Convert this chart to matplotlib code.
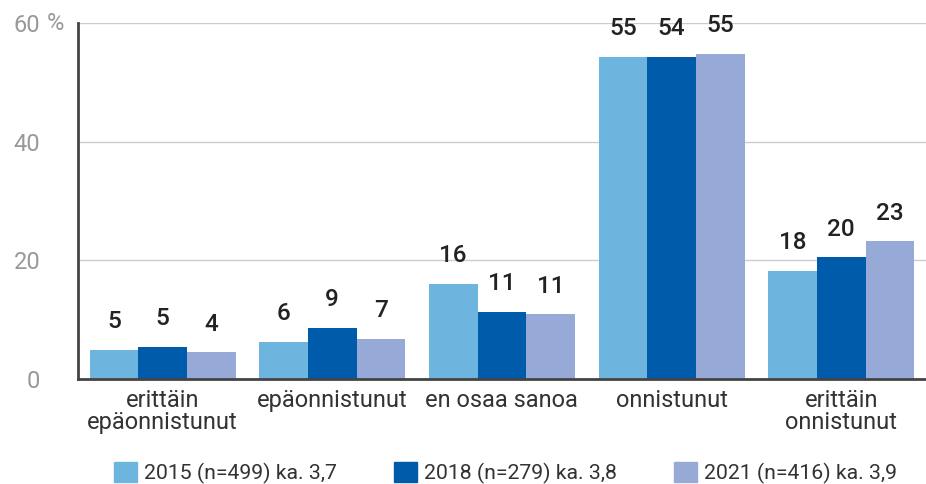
import matplotlib
matplotlib.use('Agg')
import matplotlib.pyplot as plt
from matplotlib.patches import Patch
import numpy as np

plt.rcParams['font.family'] = ['Roboto', 'DejaVu Sans']

# Data
categories = ['erittäin\nepäonnistunut', 'epäonnistunut', 'en osaa sanoa', 'onnistunut', 'erittäin\nonnistunut']
series = ['2015 (n=499) ka. 3,7', '2018 (n=279) ka. 3,8', '2021 (n=416) ka. 3,9']
values_2015 = [4.9, 6.3, 16.0, 54.3, 18.2]
values_2018 = [5.4, 8.6, 11.3, 54.3, 20.5]
values_2021 = [4.5, 6.8, 10.9, 54.8, 23.2]
labels_2015 = ['5', '6', '16', '55', '18']
labels_2018 = ['5', '9', '11', '54', '20']
labels_2021 = ['4', '7', '11', '55', '23']
colors = ['#6db4de', '#005baa', '#97a9d7']

fig = plt.figure(figsize=(9.26, 4.84), dpi=100)
ax = fig.add_axes([0.084, 0.217, 0.916, 0.735])

x = np.arange(len(categories))
width = 0.287
all_values = [values_2015, values_2018, values_2021]
all_labels = [labels_2015, labels_2018, labels_2021]
for i, (vals, labs) in enumerate(zip(all_values, all_labels)):
    pos = x + (i - 1) * width
    ax.bar(pos, vals, width, color=colors[i], label=series[i], zorder=3)
    for p, v, t in zip(pos, vals, labs):
        ax.annotate(t, (p, v), xytext=(0, 12), textcoords='offset points',
                    ha='center', va='bottom', fontsize=17.5, color='#222222',
                    fontweight='medium')

ax.set_xlim(-0.5, 4.5)
ax.set_ylim(0, 60)
ax.set_yticks([0, 20, 40, 60])
ax.set_yticklabels(['0', '20', '40', '60'], color='#999999', fontsize=17)
ax.tick_params(axis='y', length=0, pad=27)
ax.annotate('%', (0, 60), xycoords=('axes fraction', 'data'), xytext=(-22, 0),
            textcoords='offset points', fontsize=17, color='#999999',
            ha='left', va='center', annotation_clip=False)
ax.set_xticks(x)
ax.set_xticklabels(categories, fontsize=17, color='#333333', linespacing=0.95)
ax.tick_params(axis='x', length=0, pad=7)

ax.grid(axis='y', color='#cccccc', linewidth=1, zorder=0)
for s in ['top', 'right']:
    ax.spines[s].set_visible(False)
ax.spines['left'].set_color('#444444')
ax.spines['left'].set_linewidth(2)
ax.spines['bottom'].set_color('#444444')
ax.spines['bottom'].set_linewidth(2)
ax.spines['bottom'].set_zorder(4)

handles = [Patch(color=c) for c in colors]
fig.legend(handles, series, loc='lower center', bbox_to_anchor=(0.546, -0.04), ncol=3,
           frameon=False, fontsize=15.3, handlelength=1.05, handleheight=1.05,
           handletextpad=0.35, columnspacing=2.7, labelcolor='#333333')

fig.savefig('out.png', dpi=100)
